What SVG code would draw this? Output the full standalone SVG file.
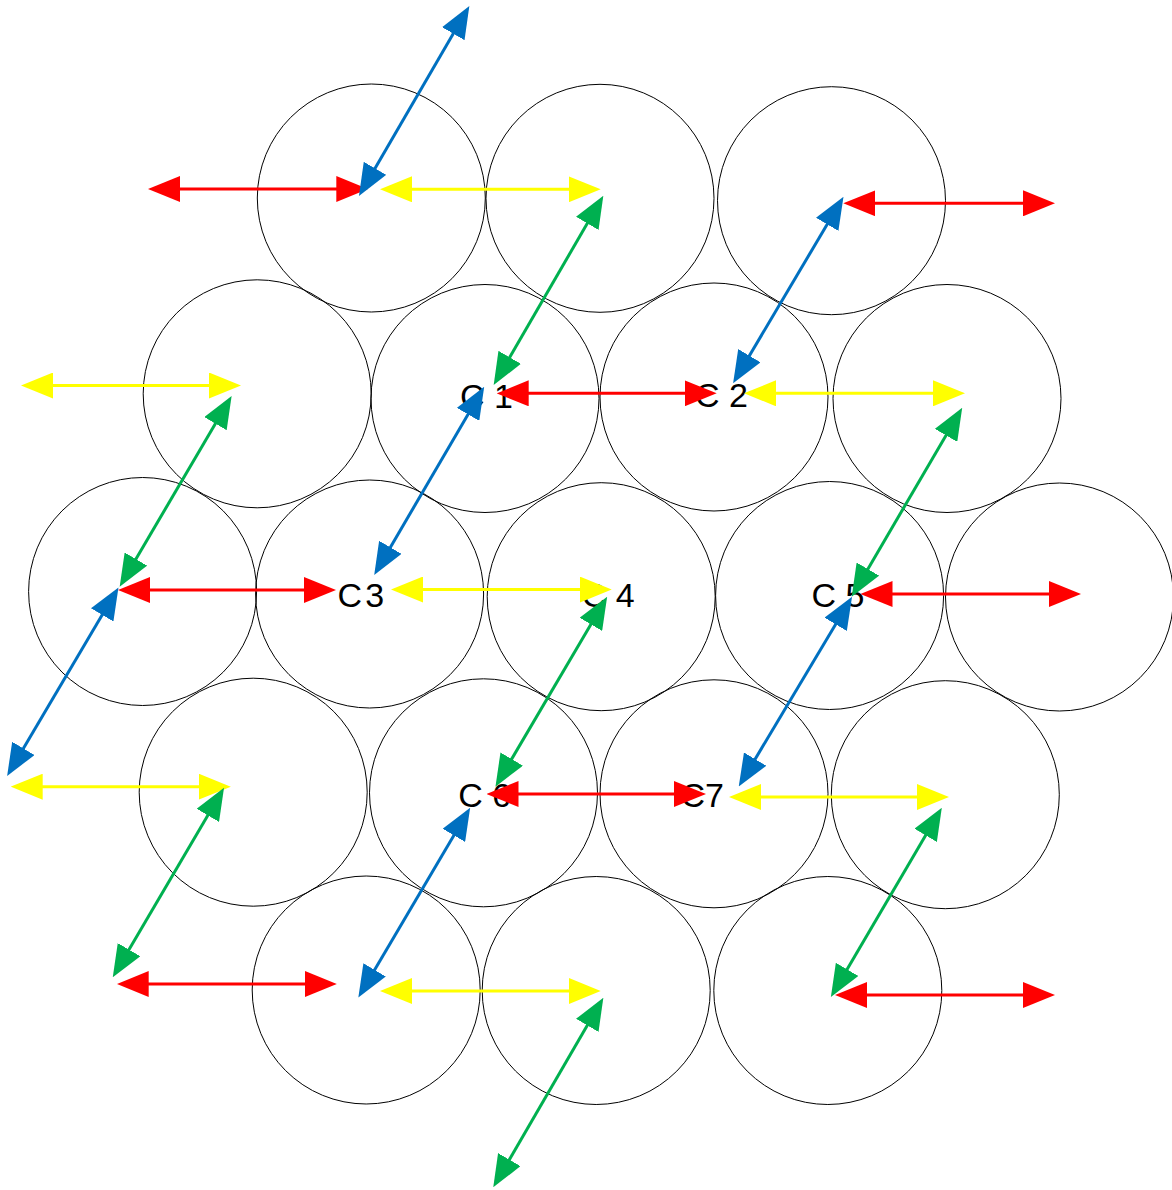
<svg xmlns="http://www.w3.org/2000/svg" width="1172" height="1190" viewBox="0 0 1172 1190">
<style>
.c{fill:none;stroke:#000;stroke-width:1}
.t{font-family:"Liberation Sans",Arial,sans-serif;font-size:34px;fill:#000}
.a{stroke-width:3;fill:none}
.r{stroke:#FF0000;marker-start:url(#mr);marker-end:url(#mr)}
.y{stroke:#FFFF00;marker-start:url(#my);marker-end:url(#my)}
.g{stroke:#00B050;marker-start:url(#mg);marker-end:url(#mg)}
.b{stroke:#0070C0;marker-start:url(#mb);marker-end:url(#mb)}
</style>
<defs>
<marker id="mr" markerUnits="userSpaceOnUse" markerWidth="32" markerHeight="26" refX="12" refY="13" orient="auto-start-reverse"><path d="M0,0L32,13L0,26Z" fill="#FF0000"/></marker>
<marker id="my" markerUnits="userSpaceOnUse" markerWidth="32" markerHeight="26" refX="12" refY="13" orient="auto-start-reverse"><path d="M0,0L32,13L0,26Z" fill="#FFFF00"/></marker>
<marker id="mg" markerUnits="userSpaceOnUse" markerWidth="32" markerHeight="26" refX="12" refY="13" orient="auto-start-reverse"><path d="M0,0L32,13L0,26Z" fill="#00B050"/></marker>
<marker id="mb" markerUnits="userSpaceOnUse" markerWidth="32" markerHeight="26" refX="12" refY="13" orient="auto-start-reverse"><path d="M0,0L32,13L0,26Z" fill="#0070C0"/></marker>
</defs>
<rect width="1172" height="1190" fill="#fff"/>
<g id="nodes">
<g id="n-r1-1"><circle class="c" cx="371.3" cy="198" r="114"/></g>
<g id="n-r1-2"><circle class="c" cx="600" cy="198.3" r="114"/></g>
<g id="n-r1-3"><circle class="c" cx="831.5" cy="200.7" r="114"/></g>
<g id="n-r2-1"><circle class="c" cx="257.2" cy="393.8" r="114"/></g>
<g id="n-C1"><circle class="c" cx="485" cy="398.5" r="114"/><text class="t" x="460" y="407.5">C 1</text></g>
<g id="n-C2"><circle class="c" cx="714" cy="397" r="114"/><text class="t" x="695" y="407">C 2</text></g>
<g id="n-r2-4"><circle class="c" cx="947" cy="398.5" r="114"/></g>
<g id="n-r3-1"><circle class="c" cx="142.6" cy="591.5" r="114"/></g>
<g id="n-C3"><circle class="c" cx="369.6" cy="594" r="114"/><text class="t" x="337.6" y="607" letter-spacing="3">C3</text></g>
<g id="n-C4"><circle class="c" cx="601.2" cy="596.7" r="114"/><text class="t" x="581.8" y="607">C 4</text></g>
<g id="n-C5"><circle class="c" cx="829.6" cy="595.5" r="114"/><text class="t" x="811.6" y="607">C 5</text></g>
<g id="n-r3-5"><circle class="c" cx="1059.5" cy="597" r="114"/></g>
<g id="n-r4-1"><circle class="c" cx="253.2" cy="792.2" r="114"/></g>
<g id="n-C6"><circle class="c" cx="483.5" cy="792.8" r="114"/><text class="t" x="458.3" y="806.5">C 6</text></g>
<g id="n-C7"><circle class="c" cx="714" cy="793.8" r="114"/><text class="t" x="680.5" y="807">C7</text></g>
<g id="n-r4-4"><circle class="c" cx="945.3" cy="794.7" r="114"/></g>
<g id="n-r5-1"><circle class="c" cx="366.2" cy="990" r="114"/></g>
<g id="n-r5-2"><circle class="c" cx="596.2" cy="990.5" r="114"/></g>
<g id="n-r5-3"><circle class="c" cx="827.8" cy="990.5" r="114"/></g>
</g>
<g id="connectors" class="a">
<line class="a r" x1="168" y1="189" x2="348.3" y2="189"/>
<line class="a b" x1="459.3" y1="23.3" x2="369" y2="178.7"/>
<line class="a y" x1="400" y1="189.3" x2="580.7" y2="189.3"/>
<line class="a g" x1="593.3" y1="213" x2="503.7" y2="367.7"/>
<line class="a r" x1="863.3" y1="203.3" x2="1035" y2="203.3"/>
<line class="a b" x1="833.3" y1="214" x2="743.3" y2="366"/>
<line class="a y" x1="41" y1="385.5" x2="221" y2="385.5"/>
<line class="a g" x1="221.5" y1="413.3" x2="129.8" y2="569.4"/>
<line class="a r" x1="516.7" y1="393.3" x2="696.7" y2="393.3"/>
<line class="a b" x1="474.1" y1="404" x2="384.3" y2="557.7"/>
<line class="a y" x1="764" y1="393.3" x2="945" y2="393.3"/>
<line class="a g" x1="952.1" y1="425" x2="861.8" y2="579.4"/>
<line class="a r" x1="138" y1="590" x2="316" y2="590"/>
<line class="a b" x1="108.3" y1="604.6" x2="17.3" y2="758.7"/>
<line class="a y" x1="411" y1="589.5" x2="591.7" y2="589.5"/>
<line class="a g" x1="597" y1="614" x2="505.6" y2="769.4"/>
<line class="a r" x1="880.5" y1="594" x2="1061" y2="594"/>
<line class="a b" x1="841.8" y1="614" x2="749" y2="769.4"/>
<line class="a y" x1="30.7" y1="786.7" x2="210.8" y2="786.7"/>
<line class="a g" x1="213.9" y1="805" x2="122.9" y2="960"/>
<line class="a r" x1="506.5" y1="794" x2="686" y2="794"/>
<line class="a b" x1="460" y1="825" x2="368.5" y2="980.2"/>
<line class="a y" x1="749" y1="797" x2="929" y2="797"/>
<line class="a g" x1="931.7" y1="825" x2="841" y2="979.7"/>
<line class="a r" x1="136.7" y1="984" x2="316.8" y2="984"/>
<line class="a y" x1="400" y1="991" x2="580.7" y2="991"/>
<line class="a g" x1="593.3" y1="1015" x2="503.3" y2="1170"/>
<line class="a r" x1="855" y1="995" x2="1035" y2="995"/>
</g>
</svg>
